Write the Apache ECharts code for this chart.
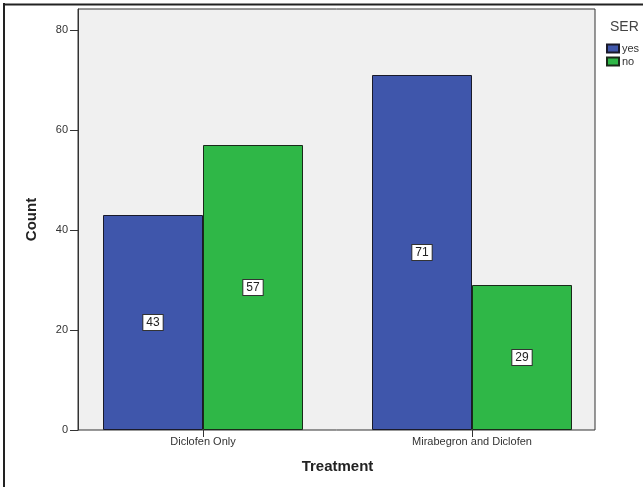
<!DOCTYPE html>
<html>
<head>
<meta charset="utf-8">
<script src="https://cdn.jsdelivr.net/npm/echarts@6/dist/echarts.min.js"></script>
<style>html,body{margin:0;padding:0;background:#fff}#c{width:643px;height:487px}</style>
</head>
<body>
<div id="c"></div>
<script>
const categories = ['Diclofen Only', 'Mirabegron and Diclofen'];
const yesCounts = [43, 71];
const noCounts = [57, 29];
const yTicks = [0, 20, 40, 60, 80];
const legendTitle = 'SER';
const xTitle = 'Treatment';
const yTitle = 'Count';

const chart = echarts.init(document.getElementById('c'));
const font = 'Liberation Sans, Arial, sans-serif';
const labelStyle = {
  show: true, position: 'inside', backgroundColor: '#fff', borderColor: '#333',
  borderWidth: 1, padding: [2, 3, 1, 3], fontSize: 12, color: '#222', fontFamily: font
};
chart.setOption({
  animation: false,
  title: {text: legendTitle, left: 605, top: 15, textStyle: {fontSize: 14, fontWeight: 'normal', color: '#444', fontFamily: font}},
  legend: {
    orient: 'vertical', left: 601, top: 38, itemWidth: 12, itemHeight: 8, itemGap: 2,
    icon: 'rect', data: ['yes', 'no'],
    textStyle: {fontSize: 11, color: '#333', fontFamily: font, padding: [0, 0, 0, -2]}
  },
  grid: [
    {left: 78, top: 9, width: 517, height: 421, show: true, backgroundColor: '#f0f0f0', borderColor: '#333', borderWidth: 1},
    {left: 68.5, top: 9, width: 538, height: 421}
  ],
  xAxis: [
    {gridIndex: 0, type: 'value', show: false},
    {gridIndex: 1, type: 'category', data: categories,
     axisLine: {show: false},
     axisTick: {show: true, alignWithLabel: true, length: 7, lineStyle: {color: '#333'}},
     axisLabel: {margin: 6, fontSize: 11, color: '#333', fontFamily: font},
     name: xTitle, nameLocation: 'middle', nameGap: 29,
     nameTextStyle: {fontSize: 15, fontWeight: 'bold', color: '#222', fontFamily: font}}
  ],
  yAxis: [
    {gridIndex: 0, type: 'value', min: yTicks[0], max: 84.2, interval: 20,
     axisLine: {show: true, lineStyle: {color: '#333'}},
     axisTick: {show: true, length: 8, lineStyle: {color: '#333'}},
     axisLabel: {fontSize: 11, color: '#333', margin: 10, fontFamily: font, showMaxLabel: false,
                 formatter: v => yTicks.includes(v) ? String(v) : ''},
     splitLine: {show: false},
     name: yTitle, nameLocation: 'middle', nameGap: 39,
     nameTextStyle: {fontSize: 15, fontWeight: 'bold', color: '#222', fontFamily: font}},
    {gridIndex: 1, type: 'value', min: 0, max: 84.2, show: false, splitLine: {show: false}}
  ],
  series: [
    {name: 'yes', type: 'bar', xAxisIndex: 1, yAxisIndex: 1, data: yesCounts, barWidth: 100, barGap: '0%',
     itemStyle: {color: '#3f56ab', borderColor: '#1a1a2a', borderWidth: 1}, label: labelStyle},
    {name: 'no', type: 'bar', xAxisIndex: 1, yAxisIndex: 1, data: noCounts, barWidth: 100, barGap: '0%',
     itemStyle: {color: '#2fb747', borderColor: '#1a2a1a', borderWidth: 1}, label: labelStyle}
  ],
  graphic: [
    {type: 'line', shape: {x1: 3, y1: 4.5, x2: 643, y2: 4.5}, style: {stroke: '#222', lineWidth: 2}},
    {type: 'line', shape: {x1: 4, y1: 3, x2: 4, y2: 487}, style: {stroke: '#222', lineWidth: 2}}
  ]
});
</script>
</body>
</html>
